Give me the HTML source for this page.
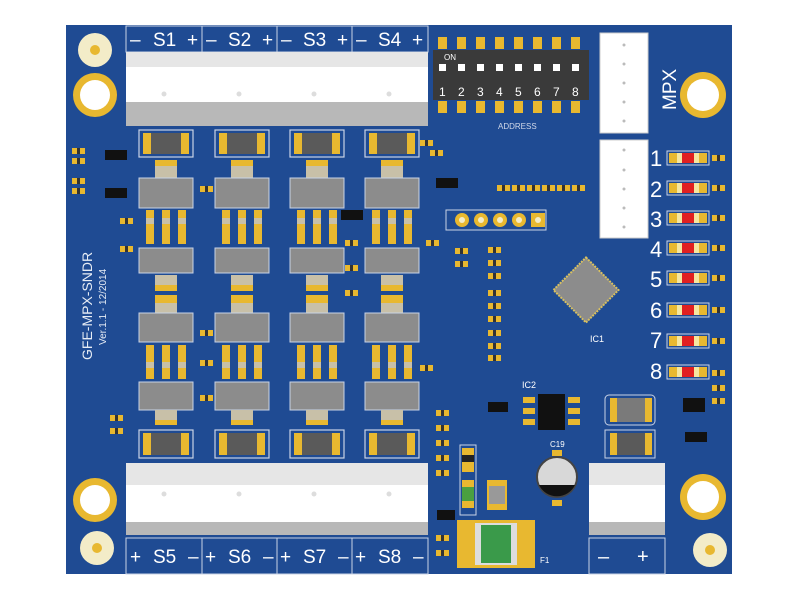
<!DOCTYPE html>
<html><head><meta charset="utf-8"><style>
html,body{margin:0;padding:0;background:#fff;width:800px;height:600px;overflow:hidden}
svg{display:block}
text{font-family:"Liberation Sans",sans-serif}
</style></head><body>
<svg width="800" height="600" viewBox="0 0 800 600" xmlns="http://www.w3.org/2000/svg">
<defs>
<g id="col">
  <rect x="-27" y="130" width="54" height="27" fill="none" stroke="#c9d3e6" stroke-width="1.2"/>
  <rect x="-23" y="133" width="46" height="21" fill="#5a5a5a"/>
  <rect x="-23" y="133" width="8" height="21" fill="#e8b830"/>
  <rect x="15" y="133" width="8" height="21" fill="#e8b830"/>
  <rect x="-11" y="160" width="22" height="6" fill="#e8b830"/>
  <rect x="-11" y="166" width="22" height="12" fill="#c8c0a8"/>
  <rect x="-27" y="178" width="54" height="30" fill="#8c8c8c" stroke="#c9d3e6"/>
  <g fill="#e8b830"><rect x="-20" y="210" width="8" height="34"/><rect x="-4" y="210" width="8" height="34"/><rect x="12" y="210" width="8" height="34"/></g>
  <g fill="#c8c0a8"><rect x="-20" y="218" width="8" height="6"/><rect x="-4" y="218" width="8" height="6"/><rect x="12" y="218" width="8" height="6"/></g>
  <rect x="-27" y="248" width="54" height="25" fill="#8c8c8c" stroke="#c9d3e6"/>
  <rect x="-11" y="275" width="22" height="10" fill="#c8c0a8"/>
  <rect x="-11" y="285" width="22" height="6" fill="#e8b830"/>
  <rect x="-11" y="295" width="22" height="8" fill="#e8b830"/>
  <rect x="-11" y="303" width="22" height="10" fill="#c8c0a8"/>
  <rect x="-27" y="313" width="54" height="29" fill="#8c8c8c" stroke="#c9d3e6"/>
  <g fill="#e8b830"><rect x="-20" y="345" width="8" height="34"/><rect x="-4" y="345" width="8" height="34"/><rect x="12" y="345" width="8" height="34"/></g>
  <g fill="#c8c0a8"><rect x="-20" y="362" width="8" height="6"/><rect x="-4" y="362" width="8" height="6"/><rect x="12" y="362" width="8" height="6"/></g>
  <rect x="-27" y="382" width="54" height="28" fill="#8c8c8c" stroke="#c9d3e6"/>
  <rect x="-11" y="410" width="22" height="10" fill="#c8c0a8"/>
  <rect x="-11" y="420" width="22" height="5" fill="#e8b830"/>
  <rect x="-27" y="430" width="54" height="28" fill="none" stroke="#c9d3e6" stroke-width="1.2"/>
  <rect x="-23" y="433" width="46" height="22" fill="#5a5a5a"/>
  <rect x="-23" y="433" width="8" height="22" fill="#e8b830"/>
  <rect x="15" y="433" width="8" height="22" fill="#e8b830"/>
</g>
<g id="res"><rect x="0" y="0" width="5" height="6" fill="#e8b830"/><rect x="5" y="0" width="3" height="6" fill="#333"/><rect x="8" y="0" width="5" height="6" fill="#e8b830"/></g>
<g id="led"><rect x="-1" y="-7" width="42" height="14" fill="none" stroke="#c9d3e6"/><rect x="1" y="-5" width="38" height="10" fill="#e8b830"/><rect x="9" y="-5" width="5" height="10" fill="#f5e6a0"/><rect x="14" y="-5" width="12" height="10" fill="#e02020"/><rect x="26" y="-5" width="5" height="10" fill="#f5e6a0"/></g>
</defs>
<rect x="66" y="25" width="666" height="549" fill="#1f4b93"/>

<circle cx="95" cy="50" r="17" fill="#f3ecc8"/><circle cx="95" cy="50" r="5" fill="#e8b830"/>
<circle cx="95" cy="95" r="22" fill="#e8b830"/><circle cx="95" cy="95" r="15" fill="#fff"/>
<circle cx="95" cy="500" r="22" fill="#e8b830"/><circle cx="95" cy="500" r="15" fill="#fff"/>
<circle cx="97" cy="548" r="17" fill="#f3ecc8"/><circle cx="97" cy="548" r="5" fill="#e8b830"/>
<circle cx="703" cy="95" r="23" fill="#e8b830"/><circle cx="703" cy="95" r="16" fill="#fff"/>
<circle cx="703" cy="497" r="23" fill="#e8b830"/><circle cx="703" cy="497" r="16" fill="#fff"/>
<circle cx="710" cy="550" r="17" fill="#f3ecc8"/><circle cx="710" cy="550" r="5" fill="#e8b830"/>

<g stroke="#c9d3e6" stroke-width="1" fill="none">
<rect x="126" y="26" width="302" height="26"/>
<line x1="202" y1="26" x2="202" y2="52"/><line x1="277" y1="26" x2="277" y2="52"/><line x1="352" y1="26" x2="352" y2="52"/>
</g>
<g fill="#fff" font-size="19">
<text x="130" y="46">–</text><text x="153" y="46">S1</text><text x="187" y="46">+</text>
<text x="206" y="46">–</text><text x="228" y="46">S2</text><text x="262" y="46">+</text>
<text x="281" y="46">–</text><text x="303" y="46">S3</text><text x="337" y="46">+</text>
<text x="356" y="46">–</text><text x="378" y="46">S4</text><text x="412" y="46">+</text>
</g>
<rect x="126" y="52" width="302" height="15" fill="#e6e6e6"/>
<rect x="126" y="67" width="302" height="35" fill="#fff"/>
<rect x="126" y="102" width="302" height="24" fill="#b8b8b8"/>
<g fill="#ddd"><circle cx="164" cy="94" r="2.5"/><circle cx="239" cy="94" r="2.5"/><circle cx="314" cy="94" r="2.5"/><circle cx="389" cy="94" r="2.5"/></g>

<rect x="126" y="463" width="302" height="22" fill="#e6e6e6"/>
<rect x="126" y="485" width="302" height="37" fill="#fff"/>
<rect x="126" y="522" width="302" height="13" fill="#b8b8b8"/>
<g fill="#ddd"><circle cx="164" cy="494" r="2.5"/><circle cx="239" cy="494" r="2.5"/><circle cx="314" cy="494" r="2.5"/><circle cx="389" cy="494" r="2.5"/></g>
<g stroke="#c9d3e6" stroke-width="1" fill="none">
<rect x="126" y="538" width="302" height="36"/>
<line x1="202" y1="538" x2="202" y2="574"/><line x1="277" y1="538" x2="277" y2="574"/><line x1="352" y1="538" x2="352" y2="574"/>
</g>
<g fill="#fff" font-size="19">
<text x="130" y="563">+</text><text x="153" y="563">S5</text><text x="188" y="563">–</text>
<text x="205" y="563">+</text><text x="228" y="563">S6</text><text x="263" y="563">–</text>
<text x="280" y="563">+</text><text x="303" y="563">S7</text><text x="338" y="563">–</text>
<text x="355" y="563">+</text><text x="378" y="563">S8</text><text x="413" y="563">–</text>
</g>

<use href="#col" x="166"/><use href="#col" x="242"/><use href="#col" x="317"/><use href="#col" x="392"/>

<rect x="105" y="150" width="22" height="10" fill="#111"/><rect x="105" y="188" width="22" height="10" fill="#111"/>
<rect x="341" y="210" width="22" height="10" fill="#111"/>
<g>
<use href="#res" x="72" y="148"/><use href="#res" x="72" y="158"/><use href="#res" x="72" y="178"/><use href="#res" x="72" y="188"/>
<use href="#res" x="120" y="218"/><use href="#res" x="120" y="246"/>
<use href="#res" x="200" y="186"/><use href="#res" x="200" y="330"/><use href="#res" x="200" y="360"/><use href="#res" x="200" y="395"/>
<use href="#res" x="345" y="240"/><use href="#res" x="345" y="265"/><use href="#res" x="345" y="290"/>
<use href="#res" x="420" y="365"/><use href="#res" x="420" y="140"/><use href="#res" x="430" y="150"/>
<use href="#res" x="110" y="415"/><use href="#res" x="110" y="428"/>
</g>
<text transform="translate(92,360) rotate(-90)" fill="#e6ecf5" font-size="14">GFE-MPX-SNDR</text>
<text transform="translate(106,345) rotate(-90)" fill="#e6ecf5" font-size="10">Ver.1.1 - 12/2014</text>

<g fill="#e8b830">
<rect x="438" y="37" width="9" height="12"/><rect x="457" y="37" width="9" height="12"/><rect x="476" y="37" width="9" height="12"/><rect x="495" y="37" width="9" height="12"/><rect x="514" y="37" width="9" height="12"/><rect x="533" y="37" width="9" height="12"/><rect x="552" y="37" width="9" height="12"/><rect x="571" y="37" width="9" height="12"/>
<rect x="438" y="101" width="9" height="12"/><rect x="457" y="101" width="9" height="12"/><rect x="476" y="101" width="9" height="12"/><rect x="495" y="101" width="9" height="12"/><rect x="514" y="101" width="9" height="12"/><rect x="533" y="101" width="9" height="12"/><rect x="552" y="101" width="9" height="12"/><rect x="571" y="101" width="9" height="12"/>
</g>
<rect x="433" y="50" width="156" height="50" fill="#3a3a3a"/>
<g fill="#fff"><rect x="439" y="64" width="7" height="7"/><rect x="458" y="64" width="7" height="7"/><rect x="477" y="64" width="7" height="7"/><rect x="496" y="64" width="7" height="7"/><rect x="515" y="64" width="7" height="7"/><rect x="534" y="64" width="7" height="7"/><rect x="553" y="64" width="7" height="7"/><rect x="572" y="64" width="7" height="7"/></g>
<text x="444" y="60" fill="#fff" font-size="8">ON</text>
<g fill="#fff" font-size="12"><text x="439" y="96">1</text><text x="458" y="96">2</text><text x="477" y="96">3</text><text x="496" y="96">4</text><text x="515" y="96">5</text><text x="534" y="96">6</text><text x="553" y="96">7</text><text x="572" y="96">8</text></g>
<text x="498" y="129" fill="#d0d8e8" font-size="8">ADDRESS</text>

<rect x="600" y="33" width="48" height="100" fill="#fff" stroke="#ccc"/>
<rect x="600" y="140" width="48" height="98" fill="#fff" stroke="#ccc"/>
<g fill="#bbb"><circle cx="624" cy="45" r="1.5"/><circle cx="624" cy="64" r="1.5"/><circle cx="624" cy="83" r="1.5"/><circle cx="624" cy="102" r="1.5"/><circle cx="624" cy="121" r="1.5"/>
<circle cx="624" cy="150" r="1.5"/><circle cx="624" cy="170" r="1.5"/><circle cx="624" cy="189" r="1.5"/><circle cx="624" cy="208" r="1.5"/><circle cx="624" cy="227" r="1.5"/></g>
<text transform="translate(676,110) rotate(-90)" fill="#fff" font-size="19">MPX</text>

<rect x="446" y="210" width="100" height="20" fill="none" stroke="#c9d3e6"/>
<g fill="#e8b830"><circle cx="462" cy="220" r="7"/><circle cx="481" cy="220" r="7"/><circle cx="500" cy="220" r="7"/><circle cx="519" cy="220" r="7"/><rect x="531" y="213" width="14" height="14"/></g>
<g fill="#f3ecc8"><circle cx="462" cy="220" r="3"/><circle cx="481" cy="220" r="3"/><circle cx="500" cy="220" r="3"/><circle cx="519" cy="220" r="3"/><circle cx="538" cy="220" r="3"/></g>
<rect x="436" y="178" width="22" height="10" fill="#111"/>
<g><use href="#res" x="497" y="185"/><use href="#res" x="512" y="185"/><use href="#res" x="527" y="185"/><use href="#res" x="542" y="185"/><use href="#res" x="557" y="185"/><use href="#res" x="572" y="185"/>
<use href="#res" x="488" y="247"/><use href="#res" x="488" y="260"/><use href="#res" x="488" y="273"/><use href="#res" x="488" y="290"/><use href="#res" x="488" y="303"/><use href="#res" x="488" y="316"/><use href="#res" x="488" y="330"/><use href="#res" x="488" y="343"/><use href="#res" x="488" y="355"/>
<use href="#res" x="455" y="248"/><use href="#res" x="455" y="261"/><use href="#res" x="426" y="240"/></g>

<g fill="#fff" font-size="22">
<text x="650" y="166">1</text><text x="650" y="197">2</text><text x="650" y="227">3</text><text x="650" y="257">4</text><text x="650" y="287">5</text><text x="650" y="318">6</text><text x="650" y="348">7</text><text x="650" y="379">8</text>
</g>
<use href="#led" x="668" y="158"/><use href="#led" x="668" y="188"/><use href="#led" x="668" y="218"/><use href="#led" x="668" y="248"/><use href="#led" x="668" y="278"/><use href="#led" x="668" y="310"/><use href="#led" x="668" y="341"/><use href="#led" x="668" y="372"/>
<g><use href="#res" x="712" y="155"/><use href="#res" x="712" y="185"/><use href="#res" x="712" y="215"/><use href="#res" x="712" y="245"/><use href="#res" x="712" y="275"/><use href="#res" x="712" y="307"/><use href="#res" x="712" y="338"/><use href="#res" x="712" y="370"/><use href="#res" x="712" y="385"/><use href="#res" x="712" y="398"/></g>

<rect x="563" y="267" width="46" height="46" fill="#8c8c8c" stroke="#d8c060" stroke-width="2" stroke-dasharray="2 1" transform="rotate(45 586 290)"/>
<text x="590" y="342" fill="#fff" font-size="9">IC1</text>

<g fill="#e8b830"><rect x="523" y="397" width="12" height="6"/><rect x="523" y="408" width="12" height="6"/><rect x="523" y="419" width="12" height="6"/><rect x="568" y="397" width="12" height="6"/><rect x="568" y="408" width="12" height="6"/><rect x="568" y="419" width="12" height="6"/></g>
<rect x="538" y="394" width="27" height="36" fill="#111"/>
<text x="522" y="388" fill="#fff" font-size="9">IC2</text>
<rect x="488" y="402" width="20" height="10" fill="#111"/>

<rect x="605" y="395" width="50" height="30" rx="4" fill="none" stroke="#c9d3e6"/>
<rect x="610" y="398" width="42" height="24" fill="#7a7a7a"/><rect x="610" y="398" width="7" height="24" fill="#e8b830"/><rect x="645" y="398" width="7" height="24" fill="#e8b830"/>
<rect x="605" y="430" width="50" height="28" fill="none" stroke="#c9d3e6"/>
<rect x="610" y="433" width="42" height="22" fill="#5a5a5a"/><rect x="610" y="433" width="7" height="22" fill="#e8b830"/><rect x="645" y="433" width="7" height="22" fill="#e8b830"/>
<rect x="683" y="398" width="22" height="14" fill="#111"/><rect x="685" y="432" width="22" height="10" fill="#111"/>

<circle cx="557" cy="477" r="20" fill="#d8d8d8" stroke="#444" stroke-width="2"/>
<path d="M539 485 A20 20 0 0 0 575 485 Z" fill="#111"/>
<rect x="552" y="450" width="10" height="6" fill="#e8b830"/><rect x="552" y="500" width="10" height="6" fill="#e8b830"/>

<rect x="589" y="463" width="76" height="22" fill="#e6e6e6"/>
<rect x="589" y="485" width="76" height="37" fill="#fff"/>
<rect x="589" y="522" width="76" height="13" fill="#b8b8b8"/>
<rect x="589" y="538" width="76" height="36" fill="none" stroke="#c9d3e6"/>
<text x="598" y="563" fill="#fff" font-size="20">–</text><text x="637" y="563" fill="#fff" font-size="20">+</text>

<rect x="457" y="520" width="78" height="48" fill="#e8b830"/>
<rect x="475" y="523" width="42" height="42" fill="#ddd"/><rect x="481" y="525" width="30" height="38" fill="#3a9a4a"/>
<rect x="460" y="445" width="16" height="70" fill="none" stroke="#c9d3e6"/>
<rect x="462" y="480" width="12" height="28" fill="#e8b830"/><rect x="462" y="487" width="12" height="14" fill="#4aa040"/>
<rect x="462" y="448" width="12" height="24" fill="#e8b830"/><rect x="462" y="455" width="12" height="7" fill="#222"/>
<rect x="487" y="480" width="20" height="30" fill="#e8b830"/><rect x="489" y="486" width="16" height="18" fill="#999"/>
<g><use href="#res" x="436" y="410"/><use href="#res" x="436" y="425"/><use href="#res" x="436" y="440"/><use href="#res" x="436" y="455"/><use href="#res" x="436" y="470"/><use href="#res" x="436" y="535"/><use href="#res" x="436" y="550"/></g>
<rect x="437" y="510" width="18" height="10" fill="#111"/>
<g fill="#fff" font-size="8"><text x="540" y="563">F1</text><text x="550" y="447">C19</text></g>
</svg>
</body></html>
